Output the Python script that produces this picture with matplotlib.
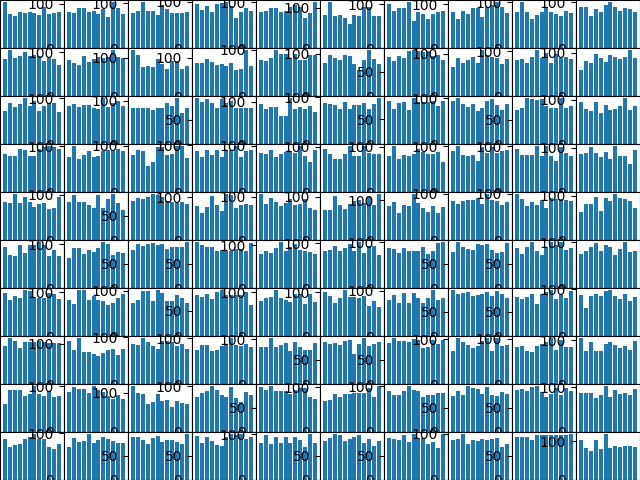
import numpy as np
import matplotlib
matplotlib.use('Agg')
from matplotlib import pyplot as plt

# bar heights, one list of 12 bars per panel, 10 panels per row
row0 = [[100,74,70,78,77,79,77,72,90,75,77,79],
        [82,79,90,90,81,83,77,88,69,103,90,77],
        [79,83,102,83,83,74,95,87,79,77,79,81],
        [95,82,90,79,96,98,99,90,66,78,87,81],
        [79,81,88,88,79,82,90,94,90,66,77,100],
        [83,114,81,83,76,61,83,79,103,101,81,79],
        [100,84,93,91,105,61,82,77,66,77,82,84],
        [82,66,84,77,91,91,71,94,98,105,94,80],
        [78,100,78,63,72,78,89,78,74,69,82,76],
        [90,90,69,85,78,95,100,89,82,87,85,78]]
row1 = [[77,96,80,83,93,84,87,83,74,80,78,66],
        [81,75,71,92,77,84,89,86,89,104,89,86],
        [120,107,76,78,76,96,85,70,92,93,70,78],
        [86,86,97,88,80,84,78,86,67,70,119,77],
        [77,75,82,99,91,90,80,92,77,77,88,88],
        [77,98,89,84,98,94,75,61,84,108,87,75],
        [80,72,82,78,93,94,93,91,93,82,84,74],
        [68,89,77,84,91,77,108,98,91,89,75,87],
        [80,82,73,86,102,84,97,73,93,84,88,82],
        [60,80,76,97,87,78,94,90,85,90,106,87]]
row2 = [[74,90,81,88,101,83,96,73,85,91,90,70],
        [83,87,81,85,85,79,77,100,80,89,94,83],
        [84,83,83,84,78,83,83,94,87,106,71,83],
        [94,87,92,84,75,93,85,89,75,75,75,75],
        [95,83,87,87,65,66,108,83,87,83,90,76],
        [87,85,83,76,91,76,83,83,87,74,85,98],
        [88,72,84,86,70,93,86,86,86,88,78,88],
        [93,100,87,82,87,72,78,93,98,85,74,87],
        [70,74,94,93,91,93,78,74,74,94,74,78],
        [94,78,74,94,69,87,76,78,85,103,76,85]]
row3 = [[83,79,79,96,92,79,79,94,99,101,99,94],
        [76,100,72,82,89,77,78,90,91,90,93,89],
        [80,91,88,57,64,97,97,80,82,99,99,73],
        [87,74,91,80,89,76,89,89,98,76,87,89],
        [84,82,91,75,82,86,86,84,99,77,66,91],
        [94,83,72,72,83,101,80,80,101,87,85,85],
        [79,101,74,81,79,83,96,88,83,83,88,66],
        [89,100,80,78,80,67,98,85,98,85,89,91],
        [93,80,82,82,100,78,100,78,67,98,85,78],
        [85,87,101,87,78,89,74,103,80,80,63,94]]
row4 = [[84,82,101,82,96,84,73,80,82,69,71,95],
        [85,99,85,83,77,71,99,70,91,101,82,66],
        [81,86,84,88,94,92,88,81,78,76,78,73],
        [80,64,78,103,83,69,107,105,76,83,85,83],
        [106,83,97,87,78,86,94,80,83,95,74,69],
        [69,69,101,80,71,83,90,92,86,100,80,106],
        [85,95,67,87,85,115,92,80,70,85,67,82],
        [84,79,84,86,86,90,79,99,86,84,75,82],
        [99,88,73,82,75,86,69,90,88,88,86,84],
        [63,80,80,98,65,94,87,103,94,92,87,72]]
row5 = [[90,72,70,94,77,94,96,101,96,70,83,70],
        [68,91,93,77,87,82,91,105,100,75,82,80],
        [78,91,86,91,93,89,91,80,84,84,84,94],
        [94,89,84,84,76,78,76,76,80,80,76,93],
        [79,86,81,93,107,86,97,102,88,86,84,79],
        [82,84,93,82,89,98,82,102,77,93,93,73],
        [87,85,76,87,82,82,80,89,74,80,98,100],
        [74,94,84,80,78,91,88,91,78,72,74,93],
        [82,70,84,94,76,68,82,94,88,94,78,82],
        [74,80,89,98,82,93,89,72,85,100,78,82]]
row6 = [[96,79,88,83,101,99,85,84,85,96,93,81],
        [83,72,104,104,83,90,83,79,70,74,86,95],
        [72,79,99,99,77,101,94,77,77,90,85,74],
        [82,78,84,74,88,91,82,82,82,82,88,62],
        [79,86,88,104,86,83,77,95,96,73,95,77],
        [99,90,74,86,104,88,88,86,92,68,79,65],
        [79,90,72,96,74,94,85,72,83,101,79,83],
        [94,86,88,91,82,84,86,91,82,93,86,78],
        [80,76,80,86,66,86,91,94,76,84,78,93],
        [87,59,85,89,85,96,98,85,79,91,76,83]]
row7 = [[85,101,96,79,92,92,92,96,92,90,90,90],
        [106,83,113,79,79,74,69,76,83,86,71,86],
        [85,83,98,89,81,76,93,93,89,81,85,74],
        [75,86,86,73,75,84,88,100,86,84,88,82],
        [82,82,102,82,86,91,73,93,82,75,75,91],
        [86,82,84,80,88,91,62,82,94,78,82,86],
        [84,94,88,88,86,93,91,74,76,91,82,91],
        [73,102,93,88,80,84,97,102,73,102,84,86],
        [82,84,73,71,84,88,93,101,75,97,82,82],
        [104,74,95,74,74,92,95,88,83,86,77,97]]
row8 = [[61,92,92,92,79,83,101,85,79,90,77,79],
        [87,98,95,95,85,100,91,87,78,72,82,72],
        [117,99,97,71,76,97,79,81,64,79,74,71],
        [76,85,89,100,91,82,76,98,74,65,87,80],
        [93,86,94,84,84,84,78,86,91,91,72,68],
        [69,71,84,77,84,84,88,88,88,99,77,102],
        [89,82,82,89,100,91,89,76,82,82,85,85],
        [74,84,76,94,91,88,78,93,76,74,82,78],
        [86,88,84,93,94,82,72,78,91,76,91,84],
        [88,88,88,75,82,102,77,93,84,88,82,95]]
row9 = [[90,74,77,79,90,96,101,90,90,72,68,79],
        [70,91,81,83,98,79,85,93,87,83,79,79],
        [88,88,82,74,86,91,78,82,82,78,74,94],
        [91,76,88,80,72,70,88,94,93,94,84,88],
        [80,98,78,93,80,93,80,95,87,72,100,80],
        [80,86,94,93,80,84,88,93,76,84,70,80],
        [86,84,82,93,78,94,84,86,74,78,66,94],
        [86,88,99,77,86,84,88,86,88,92,71,79],
        [88,88,88,82,93,93,93,93,93,93,93,94],
        [102,82,74,102,79,118,82,87,85,87,89,85]]

rows = [row0, row1, row2, row3, row4, row5, row6, row7, row8, row9]

fig, axes = plt.subplots(10, 10, figsize=(6.4, 4.8), dpi=100)
plt.subplots_adjust(left=0, right=1, bottom=0, top=1, wspace=0, hspace=0)

for i, row in enumerate(rows):
    for j, vals in enumerate(row):
        axes[i, j].bar(np.arange(len(vals)), vals)

plt.savefig('out.png')
